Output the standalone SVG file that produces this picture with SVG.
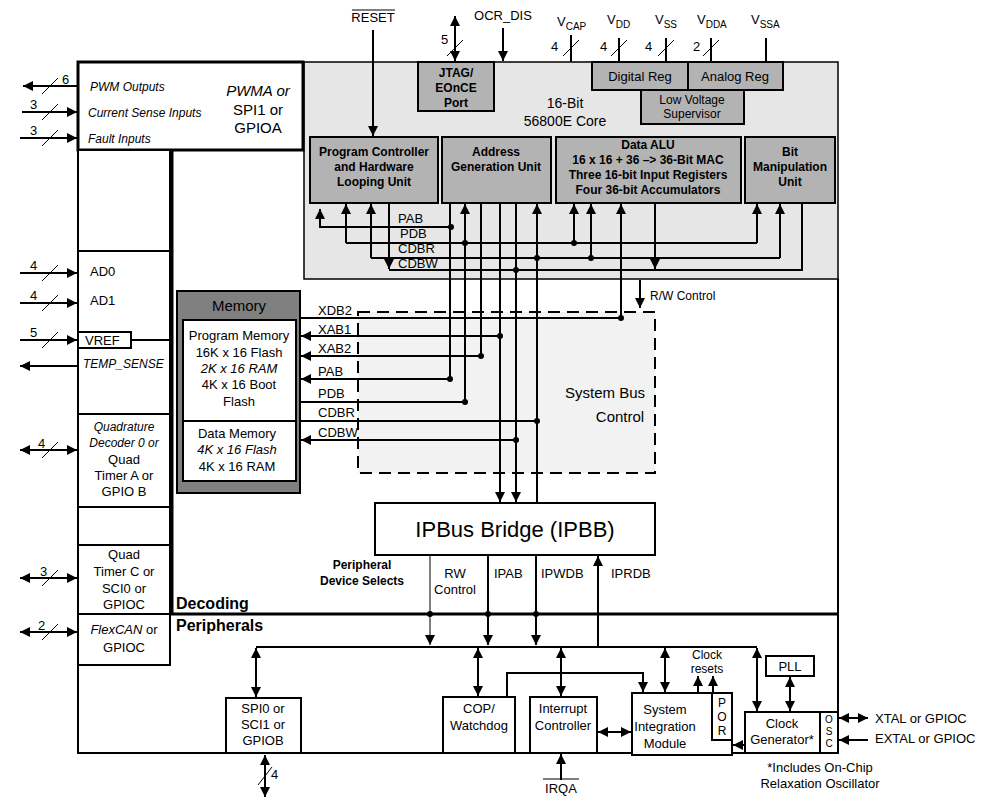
<svg xmlns="http://www.w3.org/2000/svg" width="987" height="803" viewBox="0 0 987 803">
<defs>
<marker id="ar" viewBox="0 0 10 10" refX="10" refY="5" markerWidth="10" markerHeight="10" markerUnits="userSpaceOnUse" orient="auto-start-reverse"><path d="M0,0L10,5L0,10z" fill="#000"/></marker>
<style>
text{font-family:"Liberation Sans",Arial,sans-serif;font-size:13px;fill:#000}
.b{font-weight:bold;font-size:12px}
.i{font-style:italic}
.s{font-size:12px}
.c{text-anchor:middle}
.ln{stroke:#000;stroke-width:2;fill:none}
.th{stroke:#000;stroke-width:1;fill:none}
.box{fill:#fff;stroke:#000;stroke-width:2}
.gbox{fill:#b3b3b3;stroke:#000;stroke-width:2}
.a{marker-end:url(#ar)}
.aa{marker-end:url(#ar);marker-start:url(#ar)}
</style>
</defs>
<rect width="987" height="803" fill="#fff"/>

<g id="core">
<rect x="304" y="62" width="534" height="217" fill="#e6e6e6" stroke="#000" stroke-width="1.5"/>
<text x="565" y="108" class="c" style="font-size:14px">16-Bit</text>
<text x="565" y="126" class="c" style="font-size:14px">56800E Core</text>
</g>
<g id="frame">
<path class="ln" d="M838,279V712M78,150V753H838M172,150V614M170,614H838" />
<path d="M172,150V614M170,614H838" stroke="#000" stroke-width="3" fill="none"/>
<text x="176" y="609" style="font-weight:bold;font-size:16px">Decoding</text>
<text x="176" y="631" style="font-weight:bold;font-size:16px">Peripherals</text>
</g>
<g id="pwma">
<rect x="78" y="62" width="225" height="88" fill="#fff" stroke="#000" stroke-width="3"/>
<text x="90" y="91" class="i s">PWM Outputs</text>
<text x="88" y="117" class="i s">Current Sense Inputs</text>
<text x="88" y="143" class="i s">Fault Inputs</text>
<text x="258" y="96" class="c i" style="font-size:15px">PWMA or</text>
<text x="258" y="115" class="c" style="font-size:15px">SPI1 or</text>
<text x="258" y="133" class="c" style="font-size:15px">GPIOA</text>
</g>
<g id="leftcol">
<rect x="78" y="150" width="92" height="101" class="box"/>
<rect x="78" y="251" width="92" height="163" class="box"/>
<text x="90" y="276">AD0</text>
<text x="90" y="305">AD1</text>
<rect x="78" y="332" width="53" height="16" class="box"/>
<text x="85" y="345">VREF</text>
<path class="ln" d="M131,340H172"/>
<text x="83" y="368" class="i s">TEMP_SENSE</text>
</g>
<g id="quadA">
<rect x="78" y="414" width="92" height="93" class="box"/>
<text x="124" y="431" class="c i s">Quadrature</text>
<text x="124" y="447" class="c i s">Decoder 0 or</text>
<text x="124" y="464" class="c">Quad</text>
<text x="124" y="480" class="c">Timer A or</text>
<text x="124" y="496" class="c">GPIO B</text>
<rect x="78" y="507" width="92" height="38" class="box"/>
</g>
<g id="quadC">
<rect x="78" y="545" width="92" height="69" class="box"/>
<text x="124" y="559" class="c">Quad</text>
<text x="124" y="576" class="c">Timer C or</text>
<text x="124" y="593" class="c">SCI0 or</text>
<text x="124" y="609" class="c">GPIOC</text>
</g>
<g id="flexcan">
<rect x="78" y="614" width="92" height="51" class="box"/>
<text x="124" y="634" class="c"><tspan class="i">FlexCAN</tspan> or</text>
<text x="124" y="652" class="c">GPIOC</text>
</g>
<g id="memory">
<rect x="177" y="291" width="123" height="202" fill="#808080" stroke="#000" stroke-width="2"/>
<text x="239" y="311" class="c" style="font-size:15px">Memory</text>
<rect x="183" y="320" width="113" height="101" class="box"/>
<text x="239" y="340" class="c">Program Memory</text>
<text x="239" y="357" class="c">16K x 16 Flash</text>
<text x="239" y="373" class="c i">2K x 16 RAM</text>
<text x="239" y="389" class="c">4K x 16 Boot</text>
<text x="239" y="406" class="c">Flash</text>
<rect x="183" y="421" width="113" height="60" class="box"/>
<text x="237" y="438" class="c">Data Memory</text>
<text x="237" y="454" class="c i">4K x 16 Flash</text>
<text x="237" y="471" class="c">4K x 16 RAM</text>
</g>
<g id="sbc">
<rect x="358" y="312" width="297" height="161" fill="#f2f2f2" stroke="#000" stroke-width="2" stroke-dasharray="12,7"/>
<text x="605" y="398" class="c" style="font-size:15px">System Bus</text>
<text x="620" y="422" class="c" style="font-size:15px">Control</text>
</g>
<g id="jtag">
<rect x="418" y="62" width="76" height="49" class="gbox"/>
<text x="456" y="77" class="c b">JTAG/</text>
<text x="456" y="92" class="c b">EOnCE</text>
<text x="456" y="107" class="c b">Port</text>
</g>
<g id="regs">
<rect x="641" y="90" width="103" height="34" class="gbox"/>
<text x="692" y="104" class="c s">Low Voltage</text>
<text x="692" y="118" class="c s">Supervisor</text>
<rect x="592" y="62" width="96" height="28" class="gbox"/>
<text x="640" y="81" class="c">Digital Reg</text>
<rect x="688" y="62" width="95" height="28" class="gbox"/>
<text x="735" y="81" class="c">Analog Reg</text>
</g>
<g id="pc">
<rect x="310" y="137" width="128" height="66" class="gbox"/>
<text x="374" y="156" class="c b">Program Controller</text>
<text x="374" y="171" class="c b">and Hardware</text>
<text x="374" y="186" class="c b">Looping Unit</text>
</g>
<g id="agu">
<rect x="442" y="137" width="109" height="66" class="gbox"/>
<text x="496" y="156" class="c b">Address</text>
<text x="496" y="171" class="c b">Generation Unit</text>
</g>
<g id="alu">
<rect x="556" y="137" width="185" height="66" class="gbox"/>
<text x="648" y="149" class="c b">Data ALU</text>
<text x="648" y="164" class="c b">16 x 16 + 36 –&gt; 36-Bit MAC</text>
<text x="648" y="179" class="c b">Three 16-bit Input Registers</text>
<text x="648" y="194" class="c b">Four 36-bit Accumulators</text>
</g>
<g id="bmu">
<rect x="745" y="137" width="90" height="66" class="gbox"/>
<text x="790" y="156" class="c b">Bit</text>
<text x="790" y="171" class="c b">Manipulation</text>
<text x="790" y="186" class="c b">Unit</text>
</g>
<g id="ipbb">
<rect x="375" y="503" width="280" height="52" class="box"/>
<text x="515" y="537" class="c" style="font-size:22px">IPBus Bridge (IPBB)</text>
</g>
<g id="spi">
<rect x="226" y="698" width="75" height="55" class="box"/>
<text x="263" y="713" class="c">SPI0 or</text>
<text x="263" y="729" class="c">SCI1 or</text>
<text x="263" y="745" class="c">GPIOB</text>
</g>
<g id="cop">
<rect x="443" y="697" width="72" height="56" class="box"/>
<text x="479" y="713" class="c">COP/</text>
<text x="479" y="730" class="c">Watchdog</text>
</g>
<g id="intc">
<rect x="530" y="697" width="67" height="56" class="box"/>
<text x="563" y="713" class="c">Interrupt</text>
<text x="563" y="730" class="c">Controller</text>
</g>
<g id="sim">
<rect x="632" y="693" width="100" height="62" class="box"/>
<text x="665" y="714" class="c">System</text>
<text x="665" y="731" class="c">Integration</text>
<text x="665" y="748" class="c">Module</text>
<rect x="712" y="693" width="20" height="47" class="box"/>
<text x="722" y="707" class="c s">P</text>
<text x="722" y="721" class="c s">O</text>
<text x="722" y="735" class="c s">R</text>
</g>
<g id="clk">
<rect x="745" y="712" width="75" height="41" class="box"/>
<text x="782" y="728" class="c">Clock</text>
<text x="782" y="744" class="c">Generator*</text>
<rect x="820" y="712" width="18" height="41" class="box"/>
<text x="829" y="723" class="c" style="font-size:10px">O</text>
<text x="829" y="735" class="c" style="font-size:10px">S</text>
<text x="829" y="747" class="c" style="font-size:10px">C</text>
</g>
<g id="pll">
<rect x="766" y="656" width="48" height="20" class="box"/>
<text x="790" y="671" class="c">PLL</text>
</g>

<g id="connectors">
<text x="373" y="22" class="c">RESET</text><path class="th" d="M352,10H395"/>
<path class="ln a" d="M373,30V136"/>
<path class="ln aa" d="M455,16V61"/><path class="th" d="M447,56L463,40"/><text x="441" y="44">5</text>
<text x="503" y="20" class="c">OCR_DIS</text>
<path class="ln a" d="M503,28V61"/>
<text x="557" y="26">V<tspan dy="4" font-size="10">CAP</tspan></text>
<path class="ln" d="M571,35V62"/><path class="th" d="M563,56L579,40"/><text x="551" y="51">4</text>
<text x="607" y="24">V<tspan dy="4" font-size="10">DD</tspan></text>
<path class="ln" d="M619,38V62"/><path class="th" d="M611,56L627,40"/><text x="600" y="51">4</text>
<text x="655" y="24">V<tspan dy="4" font-size="10">SS</tspan></text>
<path class="ln" d="M666,38V62"/><path class="th" d="M658,56L674,40"/><text x="645" y="51">4</text>
<text x="697" y="24">V<tspan dy="4" font-size="10">DDA</tspan></text>
<path class="ln" d="M711,38V62"/><path class="th" d="M703,56L719,40"/><text x="693" y="51">2</text>
<text x="751" y="24">V<tspan dy="4" font-size="10">SSA</tspan></text>
<path class="ln" d="M766,38V62"/>

<path class="ln a" d="M78,86H23"/><path class="th" d="M42,94L58,78"/><text x="62" y="84">6</text>
<path class="ln a" d="M22,112H77"/><path class="th" d="M42,120L58,104"/><text x="30" y="109">3</text>
<path class="ln a" d="M20,138H77"/><path class="th" d="M42,146L58,130"/><text x="30" y="135">3</text>
<path class="ln a" d="M20,273H77"/><path class="th" d="M42,281L58,265"/><text x="30" y="270">4</text>
<path class="ln a" d="M20,303H77"/><path class="th" d="M42,311L58,295"/><text x="30" y="300">4</text>
<path class="ln a" d="M20,340H77"/><path class="th" d="M42,348L58,332"/><text x="30" y="337">5</text>
<path class="ln a" d="M78,366H20"/>
<path class="ln aa" d="M20,450H77"/><path class="th" d="M42,458L58,442"/><text x="38" y="448">4</text>
<path class="ln aa" d="M20,578H77"/><path class="th" d="M42,586L58,570"/><text x="40" y="576">3</text>
<path class="ln aa" d="M20,632H77"/><path class="th" d="M42,640L58,624"/><text x="38" y="630">2</text>

<path class="ln a" d="M451,227H320V209"/>
<path class="ln" d="M346,243H757"/><path class="ln a" d="M346,243V204"/><path class="ln a" d="M757,243V204"/>
<path class="ln" d="M371,258H780"/><path class="ln a" d="M371,258V204"/><path class="ln a" d="M780,258V204"/>
<path class="ln" d="M802,203V270H389"/><path class="ln a" d="M389,203V269"/>
<path class="ln a" d="M574,243V204"/><path class="ln a" d="M591,258V204"/>
<path class="ln a" d="M655,203V269"/>
<text x="398" y="223">PAB</text><text x="400" y="238">PDB</text><text x="398" y="253">CDBR</text><text x="398" y="268">CDBW</text>

<path class="ln" d="M450,203V379"/>
<path class="ln a" d="M465,402V204"/>
<path class="ln" d="M481,203V356"/>
<path class="ln a" d="M500,203V502"/>
<path class="ln a" d="M516,203V502"/>
<path class="ln a" d="M537,503V204"/>
<path class="ln a" d="M621,318V204"/>
<path class="ln a" d="M640,280V308"/><text x="650" y="300" class="s">R/W Control</text>

<path class="ln" d="M300,318H621"/>
<path class="ln a" d="M500,336H301"/>
<path class="ln a" d="M481,356H301"/>
<path class="ln a" d="M450,379H301"/>
<path class="ln" d="M300,402H465"/>
<path class="ln" d="M300,421H537"/>
<path class="ln a" d="M516,440H301"/>
<text x="318" y="315">XDB2</text><text x="318" y="334">XAB1</text><text x="318" y="353">XAB2</text>
<text x="318" y="376">PAB</text><text x="318" y="398">PDB</text><text x="318" y="417">CDBR</text><text x="318" y="437">CDBW</text>

<g fill="#000">
<circle cx="451" cy="227" r="3"/><circle cx="465" cy="243" r="3"/><circle cx="574" cy="243" r="3"/>
<circle cx="537" cy="258" r="3"/><circle cx="591" cy="258" r="3"/><circle cx="516" cy="270" r="3"/>
<circle cx="621" cy="318" r="3"/><circle cx="500" cy="336" r="3"/><circle cx="481" cy="356" r="3"/>
<circle cx="450" cy="379" r="3"/><circle cx="465" cy="402" r="3"/><circle cx="537" cy="421" r="3"/><circle cx="516" cy="440" r="3"/>
<circle cx="430" cy="614" r="3"/><circle cx="488" cy="614" r="3"/><circle cx="536" cy="614" r="3"/>
</g>

<text x="362" y="569" class="c b">Peripheral</text>
<text x="362" y="585" class="c b">Device Selects</text>
<path class="th a" d="M430,555V645"/>
<path class="ln a" d="M488,555V645"/>
<path class="ln a" d="M536,555V645"/>
<path class="ln a" d="M598,647V556"/>
<text x="455" y="578" class="c">RW</text><text x="455" y="594" class="c">Control</text>
<text x="494" y="578">IPAB</text><text x="541" y="578">IPWDB</text><text x="611" y="578">IPRDB</text>

<path class="ln" d="M256,647H757"/>
<path class="ln aa" d="M256,648V697"/>
<path class="ln aa" d="M478,648V696"/>
<path class="ln aa" d="M561,648V696"/>
<path class="ln aa" d="M665,648V692"/>
<path class="ln aa" d="M757,648V711"/>
<path class="ln a" d="M507,697V673H643V692"/>
<path class="ln a" d="M698,693V676"/><path class="ln a" d="M713,693V676"/>
<text x="707" y="659" class="c s">Clock</text><text x="707" y="673" class="c s">resets</text>
<path class="ln aa" d="M790,677V711"/>
<path class="ln aa" d="M598,732H631"/>
<path class="ln a" d="M745,745H733"/>
<path class="ln aa" d="M839,718H868"/><text x="875" y="723">XTAL or GPIOC</text>
<path class="ln a" d="M868,740H839"/><text x="875" y="743">EXTAL or GPIOC</text>
<text x="820" y="772" class="c">*Includes On-Chip</text>
<text x="820" y="788" class="c">Relaxation Oscillator</text>
<path class="ln aa" d="M265,755V797"/><path class="th" d="M258,785L272,767"/><text x="271" y="779">4</text>
<path class="ln a" d="M561,780V754"/><text x="561" y="793" class="c">IRQA</text><path class="th" d="M543,779H579"/>
</g>
</svg>
